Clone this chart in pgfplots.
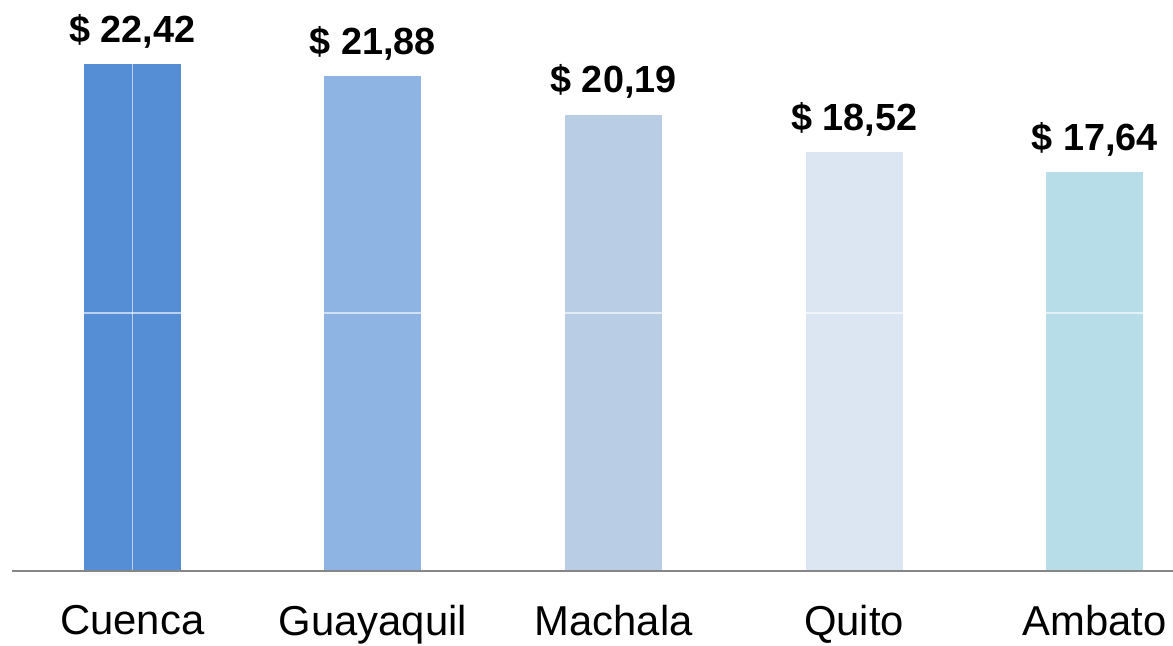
\documentclass[border=0pt]{standalone}
\usepackage{pgfplots}
\pgfplotsset{compat=1.18}
\usepackage{fontspec}
\setmainfont{Liberation Sans}

\definecolor{c1}{HTML}{558ED5}
\definecolor{c2}{HTML}{8EB4E3}
\definecolor{c3}{HTML}{B9CDE5}
\definecolor{c4}{HTML}{DCE6F2}
\definecolor{c5}{HTML}{B7DEE8}
\definecolor{axgray}{HTML}{868686}

\begin{document}
\begin{tikzpicture}
\begin{axis}[
    ybar,
    bar shift=0pt,
    bar width=48.5pt,
    scale only axis,
    width=580.5pt,
    height=258pt,
    xmin=-0.5, xmax=4.325,
    ymin=0, ymax=22.83,
    xtick={0,1,2,3,4},
    xticklabels={Cuenca, Guayaquil, Machala, Quito, Ambato},
    xticklabel style={font=\fontsize{20.9}{24}\selectfont, inner sep=0pt, anchor=north, yshift=-17pt},
    ytick={11.42},
    yticklabels={},
    major tick length=0pt,
    ymajorgrids,
    grid style={white, opacity=0.6, line width=0.8pt},
    axis on top,
    axis x line*=bottom,
    axis y line=left,
    y axis line style={draw=none},
    x axis line style={axgray, line width=1pt, -},
    clip=false,
    nodes near coords,
    point meta=explicit symbolic,
    every node near coord/.append style={font=\bfseries\fontsize{18.9}{22}\selectfont, inner sep=0pt, anchor=south, yshift=8pt, black},
]
\addplot[draw=none, fill=c1] coordinates {(0,22.42) [\$ 22,42]};
\addplot[draw=none, fill=c2] coordinates {(1,21.88) [\$ 21,88]};
\addplot[draw=none, fill=c3] coordinates {(2,20.19) [\$ 20,19]};
\addplot[draw=none, fill=c4] coordinates {(3,18.52) [\$ 18,52]};
\addplot[draw=none, fill=c5] coordinates {(4,17.64) [\$ 17,64]};
\draw[white, opacity=0.6, line width=0.6pt] (axis cs:0,-3.05) -- (axis cs:0,25.0);
\end{axis}
\pgfresetboundingbox
\path ([shift={(-6pt,-37pt)}]current axis.south west) rectangle ([shift={(0pt,27.5pt)}]current axis.north east);
\end{tikzpicture}
\end{document}
